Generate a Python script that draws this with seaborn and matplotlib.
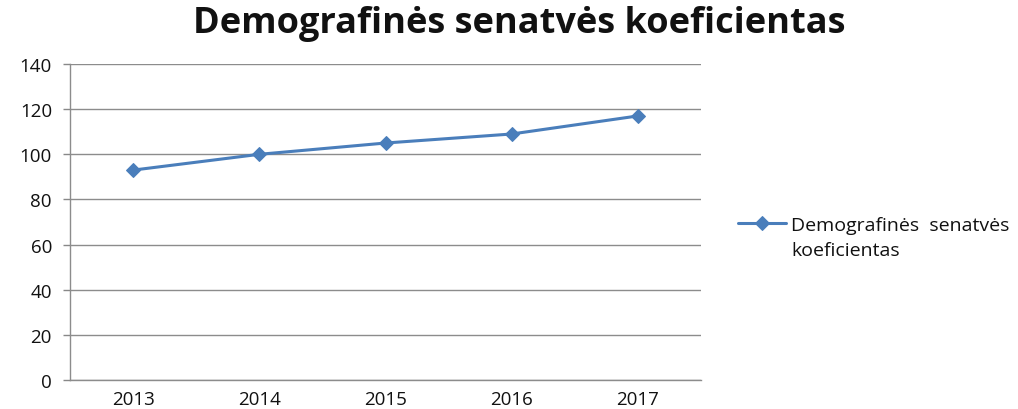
import matplotlib
matplotlib.use("Agg")
import matplotlib.pyplot as plt
import pandas as pd
import seaborn as sns
from matplotlib.ticker import FixedLocator, NullFormatter

years = ["2013", "2014", "2015", "2016", "2017"]
values = [93, 100, 105, 109, 117]
legend_lines = ["Demografinės  senatvės", "koeficientas"]
title = "Demografinės senatvės koeficientas"

sns.set_theme(style="white")
plt.rcParams["font.family"] = ["Open Sans", "DejaVu Sans"]

df = pd.DataFrame({"year": years, "value": values})

fig = plt.figure(figsize=(10.18, 4.10), dpi=100)
ax = fig.add_axes([0.0688, 0.0707, 0.6198, 0.7707])

line_color = "#4a7ebb"
sns.lineplot(data=df, x="year", y="value", ax=ax, color=line_color,
             linewidth=2.2, marker="D", markersize=7.5, markeredgecolor=line_color,
             label=legend_lines[0])

ax.set_ylim(0, 140)
ax.set_yticks(range(0, 141, 20))
ax.set_xlim(-0.5, len(years) - 0.5)
ax.xaxis.set_minor_locator(FixedLocator([i - 0.5 for i in range(len(years) + 1)]))
ax.xaxis.set_minor_formatter(NullFormatter())
ax.tick_params(axis="x", which="major", length=0, pad=7, labelsize=13.5, labelcolor="#111111")
ax.tick_params(axis="x", which="minor", length=5, color="#888888", width=1, direction="out")
ax.tick_params(axis="y", length=5, color="#888888", width=1, direction="out",
               labelsize=13.5, labelcolor="#111111", pad=8, left=True)
ax.set_xlabel("")
ax.set_ylabel("")

ax.yaxis.grid(True, color="#8c8c8c", linewidth=1)
ax.xaxis.grid(False)
for side in ["top", "right"]:
    ax.spines[side].set_visible(False)
for side in ["left", "bottom"]:
    ax.spines[side].set_color("#8c8c8c")
    ax.spines[side].set_linewidth(1)

fig.suptitle(title, x=0.51, y=0.985, fontsize=26, fontweight="bold", color="#111111")

leg = ax.legend(loc="center left", bbox_to_anchor=(1.046, 0.49), frameon=False,
                fontsize=14, handlelength=2.5, handletextpad=0.25, borderaxespad=0)
for txt in leg.get_texts():
    txt.set_color("#111111")

# second line of the legend label sits under the first, like a wrapped label
fig.canvas.draw()
bb = leg.get_texts()[0].get_window_extent()
x0, y0 = fig.transFigure.inverted().transform((bb.x0, bb.y0 - 25))
fig.text(x0, y0, legend_lines[1], fontsize=14, color="#111111", ha="left", va="bottom")

fig.savefig("out.png", dpi=100)
